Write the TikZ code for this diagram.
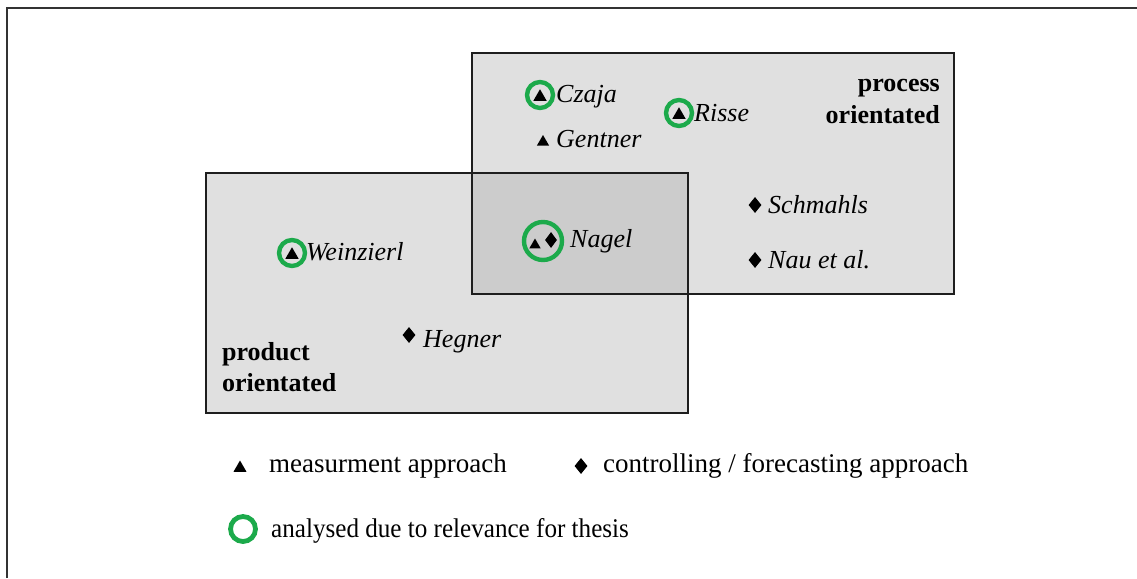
\documentclass[tikz,border=0pt]{standalone}
\usepackage{fontspec}
\setmainfont{Liberation Serif}
\newfontfamily\narrowfont[FakeStretch=0.93]{Liberation Serif}
\usetikzlibrary{shapes.geometric}
\definecolor{thesisgreen}{RGB}{28,170,75}
\definecolor{boxgray}{RGB}{224,224,224}
\definecolor{overlapgray}{RGB}{204,204,204}
\definecolor{edgegray}{RGB}{30,30,30}
\begin{document}
\begin{tikzpicture}[x=1pt,y=-1pt,
  tri/.style={regular polygon, regular polygon sides=3, fill=black, draw=none, inner sep=0pt, minimum size=15.5pt},
  smalltri/.style={tri, minimum size=14pt},
  dia/.style={diamond, fill=black, draw=none, inner sep=0pt, minimum width=13pt, minimum height=16pt},
  ring/.style={circle, draw=thesisgreen, line width=4.4pt, inner sep=0pt, minimum size=26pt},
  bigring/.style={ring, minimum size=38pt},
  authorlbl/.style={anchor=base west, inner sep=0pt, font=\itshape\fontsize{26}{30}\selectfont},
  grouplbl/.style={inner sep=0pt, font=\bfseries\fontsize{26}{30}\selectfont},
  leglbl/.style={anchor=base west, inner sep=0pt, font=\fontsize{27}{30}\selectfont},
  boxedge/.style={draw=edgegray, line width=2.4pt}
]
\useasboundingbox (0,0) rectangle (1137,578);
% outer frame (cropped)
\draw[line width=2.4pt, black!80] (7,578) -- (7,8) -- (1137,8);

% boxes
\fill[boxgray] (472,53) rectangle (954,294);
\fill[boxgray] (206,173) rectangle (688,413);
\fill[overlapgray] (472,173) rectangle (688,294);
\draw[boxedge] (472,53) rectangle (954,294);
\draw[boxedge] (206,173) rectangle (688,413);

% group labels
\node[grouplbl, anchor=base east] (proc1) at (940,92) {process};
\node[grouplbl, anchor=base east] (proc2) at (940,123) {orientated};
\node[grouplbl, anchor=base west] (prod1) at (222,360) {product};
\node[grouplbl, anchor=base west] (prod2) at (222,391) {orientated};

% Czaja
\node[tri] (czajam) at (540,97) {};
\node[ring] (czajar) at (540,95) {};
\node[authorlbl] (czaja) at (556,102) {Czaja};
% Gentner
\node[smalltri] (gentnerm) at (543,142) {};
\node[authorlbl] (gentner) at (556,147) {Gentner};
% Risse
\node[tri] (rissem) at (679,115) {};
\node[ring] (risser) at (679,113) {};
\node[authorlbl] (risse) at (694,121) {Risse};
% Weinzierl
\node[tri] (weinm) at (292,255) {};
\node[ring] (weinr) at (292,253) {};
\node[authorlbl] (wein) at (306,260) {Weinzierl};
% Nagel
\node[smalltri, minimum size=13pt] (nageltri) at (535,245) {};
\node[dia, minimum width=12pt] (nageldia) at (551,240) {};
\node[bigring] (nagelr) at (543,241) {};
\node[authorlbl] (nagel) at (570,247) {Nagel};
% Hegner
\node[dia] (hegnerm) at (409,335) {};
\node[authorlbl] (hegner) at (423,347) {Hegner};
% Schmahls
\node[dia] (schm) at (755,205) {};
\node[authorlbl] (schmahls) at (768,213) {Schmahls};
% Nau et al.
\node[dia] (naum) at (755,260) {};
\node[authorlbl] (nau) at (768,268) {Nau et al.};

% legend
\node[tri, minimum size=15pt] (legtri) at (240,468) {};
\node[leglbl] (legmeas) at (269,472) {measurment approach};
\node[dia] (legdia) at (581,466) {};
\node[leglbl] (legctrl) at (603,472) {controlling / forecasting approach};
\node[ring, line width=4.8pt, minimum size=25pt] (legring) at (243,529) {};
\node[leglbl, font=\narrowfont\fontsize{27}{30}\selectfont] (legana) at (271,537) {analysed due to relevance for thesis};
\end{tikzpicture}
\end{document}
